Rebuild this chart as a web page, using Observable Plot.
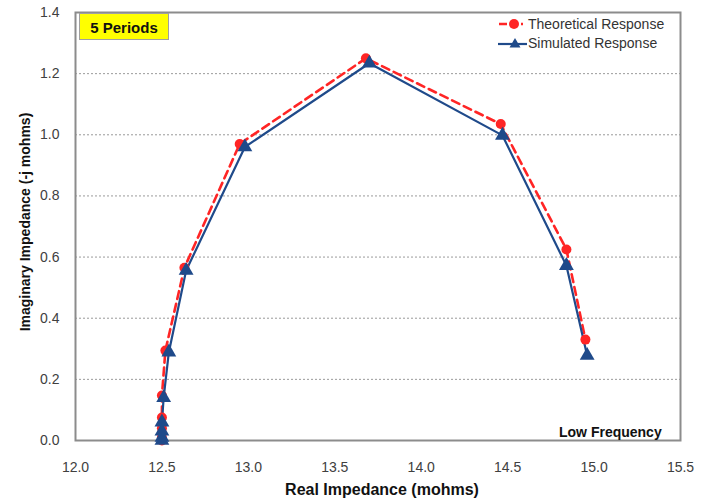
<!DOCTYPE html>
<html>
<head>
<meta charset="utf-8">
<script src="https://cdn.jsdelivr.net/npm/d3@7"></script>
<script src="https://cdn.jsdelivr.net/npm/@observablehq/plot@0.6"></script>
<style>
  html, body { margin: 0; padding: 0; background: #fff; }
  #wrap { position: relative; width: 712px; height: 501px; font-family: "Liberation Sans", Arial, sans-serif; }
  #wrap svg.plot { position: absolute; left: 0; top: 0; }
  .ov { position: absolute; white-space: nowrap; }
</style>
</head>
<body>
<div id="wrap"></div>
<script>
// Theoretical response (red circles, dashed)
const theoReal = [12.50, 12.50, 12.50, 12.50, 12.50, 12.52, 12.63, 12.95, 13.68, 14.46, 14.84, 14.95];
const theoImag = [0.00, 0.01, 0.04, 0.075, 0.147, 0.294, 0.565, 0.97, 1.25, 1.035, 0.625, 0.33];
// Simulated response (blue triangles, solid)
const simReal = [12.50, 12.50, 12.50, 12.50, 12.51, 12.54, 12.64, 12.98, 13.70, 14.47, 14.84, 14.96];
const simImag = [0.00, 0.01, 0.03, 0.06, 0.14, 0.289, 0.556, 0.96, 1.234, 0.998, 0.572, 0.278];

const xTicks = [12.0, 12.5, 13.0, 13.5, 14.0, 14.5, 15.0, 15.5];
const yTicks = [0.0, 0.2, 0.4, 0.6, 0.8, 1.0, 1.2, 1.4];

const seriesNames = ["Theoretical Response", "Simulated Response"];
const titleText = "5 Periods";
const noteText = "Low Frequency";
const xTitle = "Real Impedance (mohms)";
const yTitle = "Imaginary Impedance (-j mohms)";

const RED = "#ff2525";
const BLUE = "#1f4a8a";

const theo = theoReal.map((x, i) => ({x, y: theoImag[i]}));
const sim = simReal.map((x, i) => ({x, y: simImag[i]}));

const W = 712, H = 501;
const mL = 75, mR = 32, mT = 12, mB = 61;

const chart = Plot.plot({
  width: W,
  height: H,
  marginLeft: mL,
  marginRight: mR,
  marginTop: mT,
  marginBottom: mB,
  style: {fontFamily: "'Liberation Sans', Arial, sans-serif", fontSize: "14px", color: "#404040", background: "#fff"},
  x: {domain: [12, 15.5], ticks: xTicks, tickFormat: d3.format(".1f"), label: null},
  y: {domain: [0, 1.4], ticks: yTicks, tickFormat: d3.format(".1f"), label: null},
  marks: [
    Plot.gridY(yTicks.filter(v => v > 0 && v < 1.4), {stroke: "#9a9a9a", strokeOpacity: 1, strokeDasharray: "2,2", strokeWidth: 1}),
    Plot.axisX({ticks: xTicks, tickFormat: d3.format(".1f"), tickSize: 0, tickPadding: 22, label: null, fill: "#404040"}),
    Plot.axisY({ticks: yTicks, tickFormat: d3.format(".1f"), tickSize: 0, tickPadding: 16, label: null, fill: "#404040"}),
    Plot.frame({stroke: "#8c8c8c", strokeWidth: 2}),
    Plot.line(theo, {x: "x", y: "y", stroke: RED, strokeWidth: 2.6, strokeDasharray: "8,5"}),
    Plot.line(sim, {x: "x", y: "y", stroke: BLUE, strokeWidth: 2.2}),
    Plot.dot(theo, {x: "x", y: "y", r: 5, fill: RED, stroke: "none", symbol: "circle"}),
    Plot.dot(sim, {x: "x", y: "y", r: 5.5, fill: BLUE, stroke: "none", symbol: "triangle"})
  ]
});
chart.classList.add("plot");
const wrap = document.getElementById("wrap");
wrap.appendChild(chart);

function ov(html, css) {
  const d = document.createElement("div");
  d.className = "ov";
  d.innerHTML = html;
  Object.assign(d.style, css);
  wrap.appendChild(d);
  return d;
}

// "5 Periods" box
ov(titleText, {left: "79px", top: "13px", width: "90px", height: "27px", lineHeight: "27px",
  background: "#ffff00", border: "1px solid #a0a0a0", boxSizing: "border-box",
  textAlign: "center", fontWeight: "bold", fontSize: "15px", color: "#111"});

// Legend
function legendRow(i, top) {
  const sym = i === 0
    ? `<svg width="30" height="12" style="vertical-align:middle"><line x1="1" y1="6" x2="25" y2="6" stroke="${RED}" stroke-width="2.6" stroke-dasharray="8,3"/><circle cx="16" cy="6" r="5" fill="${RED}"/></svg>`
    : `<svg width="30" height="12" style="vertical-align:middle"><line x1="0" y1="7" x2="29" y2="7" stroke="${BLUE}" stroke-width="2.2"/><path d="M17,1 L22.5,10.5 L11.5,10.5 Z" fill="${BLUE}"/></svg>`;
  ov(`${sym}<span style="vertical-align:middle;margin-left:0px">${seriesNames[i]}</span>`,
    {left: "498px", top: top + "px", fontSize: "14px", color: "#333", lineHeight: "16px"});
}
legendRow(0, 15);
legendRow(1, 34);

// Low Frequency note
ov(noteText, {left: "559px", top: "424px", fontWeight: "bold", fontSize: "14px", color: "#111"});

// Axis titles
ov(xTitle, {left: "382px", top: "481px", transform: "translateX(-50%)", fontWeight: "bold", fontSize: "16px", color: "#111"});
ov(yTitle, {left: "25px", top: "222px", transform: "translate(-50%,-50%) rotate(-90deg)", fontWeight: "bold", fontSize: "14px", color: "#111"});
</script>
</body>
</html>
